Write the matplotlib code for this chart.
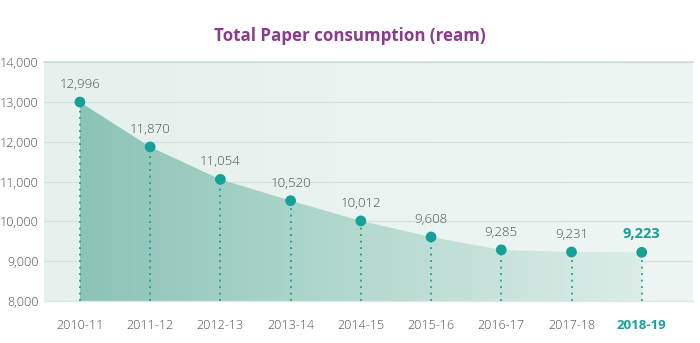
import matplotlib
matplotlib.use("Agg")
import matplotlib.pyplot as plt
import numpy as np
from matplotlib.colors import LinearSegmentedColormap
from matplotlib.patches import Polygon

years = ["2010-11", "2011-12", "2012-13", "2013-14", "2014-15", "2015-16", "2016-17", "2017-18", "2018-19"]
values = [12996, 11870, 11054, 10520, 10012, 9608, 9285, 9231, 9223]
yticks = [8000, 9000, 10000, 11000, 12000, 13000, 14000]

plt.rcParams['font.family'] = ['Open Sans', 'DejaVu Sans']

teal = "#17a096"
gray = "#505050"

fig = plt.figure(figsize=(7, 3.43), dpi=100)
ax = fig.add_axes([0.063, 0.1224, 0.927, 0.6966])

x = np.arange(len(years))
xmin, xmax = -0.51, 8.73
ymin, ymax = 8000, 14000
ax.set_xlim(xmin, xmax)
ax.set_ylim(ymin, ymax)

# background gradient
bg = LinearSegmentedColormap.from_list("bg", ["#e5f1ed", "#eef6f3"])
ax.imshow(np.linspace(0, 1, 256).reshape(1, -1), cmap=bg, aspect="auto",
          extent=[xmin, xmax, ymin, ymax], zorder=0)

for t in yticks:
    ax.axhline(t, color="#d3e2dd", lw=0.9, zorder=1)

# area fill with gradient
fillc = LinearSegmentedColormap.from_list("fill", ["#8cc3b7", "#b4d9cf", "#dcede8"])
img = ax.imshow(np.linspace(0, 1, 256).reshape(1, -1), cmap=fillc, aspect="auto",
                extent=[x[0], x[-1], ymin, ymax], zorder=2)
verts = [(x[0], ymin)] + list(zip(x, values)) + [(x[-1], ymin)]
poly = Polygon(verts, closed=True, facecolor="none", edgecolor="none")
ax.add_patch(poly)
img.set_clip_path(poly)

# dotted drop lines
for xi, v in zip(x, values):
    ax.plot([xi, xi], [ymin, v], color=teal, lw=1.3, ls=(0, (1, 2.6)), zorder=3)

ax.scatter(x, values, s=60, color=teal, zorder=4, edgecolors="none")

for i, (xi, v) in enumerate(zip(x, values)):
    last = i == len(x) - 1
    ax.annotate(f"{v:,}", (xi, v), xytext=(0, 8), textcoords="offset points",
                ha="center", va="bottom", fontsize=10.5 if last else 9.5,
                color=teal if last else gray, fontweight="bold" if last else "light",
                zorder=5)

ax.set_xticks(x)
ax.set_xticklabels(years)
ax.set_yticks(yticks)
ax.set_yticklabels([f"{t:,}" for t in yticks])
ax.tick_params(axis="both", length=0, labelsize=9, labelcolor=gray)
ax.tick_params(axis="x", pad=13)
ax.tick_params(axis="y", pad=4)
for l in ax.get_xticklabels() + ax.get_yticklabels():
    l.set_fontweight("light")
lbl = ax.get_xticklabels()[-1]
lbl.set_color(teal)
lbl.set_fontweight("bold")
lbl.set_fontsize(9.5)

for s in ["left", "right"]:
    ax.spines[s].set_visible(False)
ax.spines["top"].set_color("#cfdcd8")
ax.spines["top"].set_linewidth(1.2)
ax.spines["bottom"].set_color("#dde8e4")
ax.spines["bottom"].set_linewidth(1.0)

fig.text(0.5, 0.895, "Total Paper consumption (ream)", ha="center", va="center",
         fontsize=12.2, fontweight="bold", color="#8b3a8f")

fig.savefig("out.png", dpi=100)
